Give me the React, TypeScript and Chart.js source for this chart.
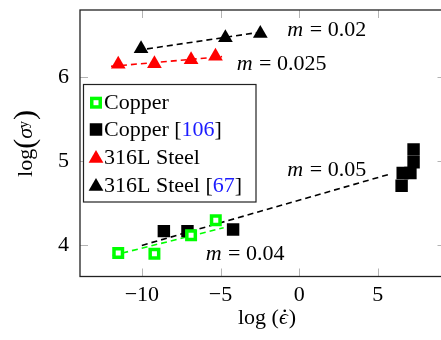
import { useEffect, useRef } from "react";
import { Chart, registerables } from "chart.js";

Chart.register(...registerables);

const SERIF = "'Liberation Serif', 'DejaVu Serif', serif";
const GREEN = "#00ff00";
const RED = "#ff0000";
const BLACK = "#000000";
const BLUE = "#1c1cff";

// log(strain rate) vs log(yield stress)
const copperX = [-11.5, -9.2, -6.87, -5.3];
const copperY = [3.91, 3.9, 4.12, 4.3];

const copperRefX = [-8.6, -7.1, -4.2, 6.51, 6.58, 7.07, 7.27, 7.27];
const copperRefY = [4.17, 4.17, 4.19, 4.71, 4.86, 4.86, 4.99, 5.14];

const steelX = [-11.5, -9.2, -6.87, -5.32];
const steelY = [6.154, 6.162, 6.209, 6.249];

const steelRefX = [-10.05, -4.69, -2.47];
const steelRefY = [6.34, 6.47, 6.52];

// power-law fit lines (start, end)
const copperFitX = [-11.86, -4.8];
const copperFitY = [3.88, 4.21];
const copperRefFitX = [-10.0, 5.8];
const copperRefFitY = [4.0, 4.85];
const steelFitX = [-11.96, -4.9];
const steelFitY = [6.13, 6.245];
const steelRefFitX = [-10.3, -2.7];
const steelRefFitY = [6.32, 6.53];

// slope labels: value, anchor x (left), anchor y (middle)
const slopeValues = ["0.02", "0.025", "0.05", "0.04"];
const slopeX = [-0.75, -3.97, -0.75, -5.94];
const slopeY = [6.56, 6.16, 4.89, 3.89];

const xTicks = [-10, -5, 0, 5];
const yTicks = [4, 5, 6];
const xMin = -13.93;
const xMax = 9.3;
const yMin = 3.63;
const yMax = 6.8;

const legendLabels = ["Copper", "Copper [", "316L Steel", "316L Steel ["];
const legendRefs = ["", "106", "", "67"];

const pts = (xs: number[], ys: number[]) => xs.map((x, i) => ({ x, y: ys[i] }));

function drawMarker(ctx: CanvasRenderingContext2D, kind: string, x: number, y: number) {
  ctx.save();
  if (kind === "open") {
    const s = 8.5;
    ctx.fillStyle = "#fff";
    ctx.strokeStyle = GREEN;
    ctx.lineWidth = 3.5;
    ctx.fillRect(x - s / 2, y - s / 2, s, s);
    ctx.strokeRect(x - s / 2, y - s / 2, s, s);
  } else if (kind === "square") {
    const s = 12.5;
    ctx.fillStyle = BLACK;
    ctx.fillRect(x - s / 2, y - s / 2, s, s);
  } else {
    const r = 8.5;
    ctx.fillStyle = kind === "redtri" ? RED : BLACK;
    ctx.beginPath();
    ctx.moveTo(x, y - r);
    ctx.lineTo(x + r * Math.sin((2 * Math.PI) / 3), y + r / 2);
    ctx.lineTo(x - r * Math.sin((2 * Math.PI) / 3), y + r / 2);
    ctx.closePath();
    ctx.fill();
  }
  ctx.restore();
}

const decorPlugin = {
  id: "decor",
  beforeDatasetsDraw(chart: any) {
    const { ctx, chartArea: a, scales } = chart;
    ctx.save();
    ctx.strokeStyle = "#b4b4b4";
    ctx.lineWidth = 1;
    const tl = 8;
    for (const v of xTicks) {
      const px = Math.round(scales.x.getPixelForValue(v)) + 0.5;
      ctx.beginPath();
      ctx.moveTo(px, a.bottom);
      ctx.lineTo(px, a.bottom - tl);
      ctx.moveTo(px, a.top);
      ctx.lineTo(px, a.top + tl);
      ctx.stroke();
    }
    for (const v of yTicks) {
      const py = Math.round(scales.y.getPixelForValue(v)) + 0.5;
      ctx.beginPath();
      ctx.moveTo(a.left, py);
      ctx.lineTo(a.left + tl, py);
      ctx.moveTo(a.right, py);
      ctx.lineTo(a.right - tl, py);
      ctx.stroke();
    }
    ctx.restore();
  },
  afterDatasetsDraw(chart: any) {
    const { ctx, chartArea: a, scales } = chart;
    ctx.save();
    // frame
    ctx.strokeStyle = "#222";
    ctx.lineWidth = 1.3;
    ctx.strokeRect(a.left, a.top, a.right - a.left, a.bottom - a.top);

    // slope labels
    ctx.textBaseline = "middle";
    ctx.fillStyle = "#000";
    slopeValues.forEach((val, i) => {
      let px = scales.x.getPixelForValue(slopeX[i]);
      const py = scales.y.getPixelForValue(slopeY[i]);
      ctx.font = `italic 22px ${SERIF}`;
      ctx.fillText("m", px, py);
      px += ctx.measureText("m").width;
      ctx.font = `22px ${SERIF}`;
      ctx.fillText(" = " + val, px + 1, py);
    });

    // legend
    const lx = 83.5, ly = 84.5, lw = 172.5, lh = 117.5;
    ctx.fillStyle = "#fff";
    ctx.fillRect(lx, ly, lw, lh);
    ctx.strokeStyle = "#222";
    ctx.lineWidth = 1.2;
    ctx.strokeRect(lx, ly, lw, lh);
    const kinds = ["open", "square", "redtri", "tri"];
    const rowY = [102.7, 129.5, 157, 185];
    ctx.font = `22px ${SERIF}`;
    ctx.textBaseline = "middle";
    legendLabels.forEach((lab, i) => {
      drawMarker(ctx, kinds[i], 96, rowY[i] + (i >= 2 ? 1.5 : 0));
      let tx = 104;
      ctx.fillStyle = "#000";
      ctx.fillText(lab, tx, rowY[i] + 1);
      if (legendRefs[i]) {
        tx += ctx.measureText(lab).width;
        ctx.fillStyle = BLUE;
        ctx.fillText(legendRefs[i], tx, rowY[i] + 1);
        tx += ctx.measureText(legendRefs[i]).width;
        ctx.fillStyle = "#000";
        ctx.fillText("]", tx, rowY[i] + 1);
      }
    });

    // x axis title: log (ε̇)
    ctx.fillStyle = "#000";
    ctx.textBaseline = "alphabetic";
    const xb = 324;
    ctx.font = `22px ${SERIF}`;
    const p1 = "log (";
    const w1 = ctx.measureText(p1).width;
    ctx.font = `italic 22px ${SERIF}`;
    const w2 = ctx.measureText("ϵ").width;
    ctx.font = `22px ${SERIF}`;
    const w3 = ctx.measureText(")").width;
    let sx = 267 - (w1 + w2 + w3 + 1) / 2;
    ctx.fillText(p1, sx, xb);
    sx += w1;
    ctx.font = `italic 22px ${SERIF}`;
    ctx.fillText("ϵ", sx, xb);
    ctx.font = `22px ${SERIF}`;
    ctx.textAlign = "center";
    ctx.fillText(".", sx + w2 / 2 + 1.5, xb - 12);
    ctx.textAlign = "left";
    ctx.fillText(")", sx + w2 + 1, xb);

    // y axis title: log(σ_y)
    ctx.translate(25, 143.5);
    ctx.rotate(-Math.PI / 2);
    const base = 7;
    ctx.font = `22px ${SERIF}`;
    const wl = ctx.measureText("log").width;
    ctx.font = `30px ${SERIF}`;
    const wp = ctx.measureText("(").width;
    ctx.font = `italic 22px ${SERIF}`;
    const ws = ctx.measureText("σ").width;
    ctx.font = `14px ${SERIF}`;
    const wy = ctx.measureText("y").width;
    const total = wl + wp * 2 + ws + wy + 1;
    let ux = -total / 2;
    ctx.font = `22px ${SERIF}`;
    ctx.fillText("log", ux, base);
    ux += wl;
    ctx.font = `30px ${SERIF}`;
    ctx.fillText("(", ux, base + 2);
    ux += wp;
    ctx.font = `italic 22px ${SERIF}`;
    ctx.fillText("σ", ux, base);
    ux += ws;
    ctx.font = `14px ${SERIF}`;
    ctx.fillText("y", ux, base - 4);
    ux += wy + 1;
    ctx.font = `30px ${SERIF}`;
    ctx.fillText(")", ux, base + 2);
    ctx.restore();
  },
};

// fixed axis boxes so the plot area lands at the same place every render
const fixBox = (size: { width?: number; height?: number }) => (s: any) => {
  if (size.width !== undefined) s.width = size.width;
  if (size.height !== undefined) s.height = size.height;
  s.paddingTop = 0;
  s.paddingBottom = 0;
  s.paddingLeft = 0;
  s.paddingRight = 0;
};

export default function App() {
  const ref = useRef<HTMLCanvasElement | null>(null);

  useEffect(() => {
    if (!ref.current) return;
    const fitLine = (xs: number[], ys: number[], color: string) => ({
      data: pts(xs, ys),
      showLine: true,
      borderColor: color,
      borderWidth: 1.6,
      borderDash: [6, 4],
      pointRadius: 0,
      fill: false,
      order: 2,
    });
    const chart = new Chart(ref.current, {
      type: "scatter",
      data: {
        datasets: [
          fitLine(copperRefFitX, copperRefFitY, BLACK),
          fitLine(copperFitX, copperFitY, GREEN),
          fitLine(steelFitX, steelFitY, RED),
          fitLine(steelRefFitX, steelRefFitY, BLACK),
          {
            data: pts(copperRefX, copperRefY),
            pointStyle: "rect",
            pointRadius: 8.8,
            backgroundColor: BLACK,
            borderColor: BLACK,
            borderWidth: 0,
            order: 1,
          },
          {
            data: pts(copperX, copperY),
            pointStyle: "rect",
            pointRadius: 6,
            backgroundColor: "#fff",
            borderColor: GREEN,
            borderWidth: 3.5,
            order: 0,
          },
          {
            data: pts(steelX, steelY),
            pointStyle: "triangle",
            pointRadius: 8.5,
            backgroundColor: RED,
            borderColor: RED,
            borderWidth: 0,
            order: 1,
          },
          {
            data: pts(steelRefX, steelRefY),
            pointStyle: "triangle",
            pointRadius: 8.5,
            backgroundColor: BLACK,
            borderColor: BLACK,
            borderWidth: 0,
            order: 1,
          },
        ],
      } as any,
      options: {
        animation: false,
        responsive: false,
        maintainAspectRatio: false,
        layout: { padding: { top: 10, right: 2, left: 0, bottom: 0 } },
        plugins: { legend: { display: false }, tooltip: { enabled: false } },
        scales: {
          x: {
            type: "linear",
            min: xMin,
            max: xMax,
            grid: { display: false },
            border: { display: false },
            afterBuildTicks: (s: any) => {
              s.ticks = xTicks.map((v) => ({ value: v }));
            },
            afterFit: fixBox({ height: 63.5 }),
            ticks: {
              padding: -2,
              color: "#000",
              font: { family: SERIF, size: 22 },
              callback: (v: any) => String(v).replace("-", "\u2212"),
            },
          },
          y: {
            type: "linear",
            min: yMin,
            max: yMax,
            grid: { display: false },
            border: { display: false },
            afterBuildTicks: (s: any) => {
              s.ticks = yTicks.map((v) => ({ value: v }));
            },
            afterFit: fixBox({ width: 80 }),
            ticks: {
              padding: 3,
              color: "#000",
              font: { family: SERIF, size: 22 },
            },
          },
        },
      } as any,
      plugins: [decorPlugin],
    });
    return () => chart.destroy();
  }, []);

  return (
    <div style={{ position: "fixed", left: 0, top: 0, width: 455, height: 340, background: "#fff" }}>
      <canvas ref={ref} width={455} height={340} style={{ width: 455, height: 340, display: "block" }} />
    </div>
  );
}
